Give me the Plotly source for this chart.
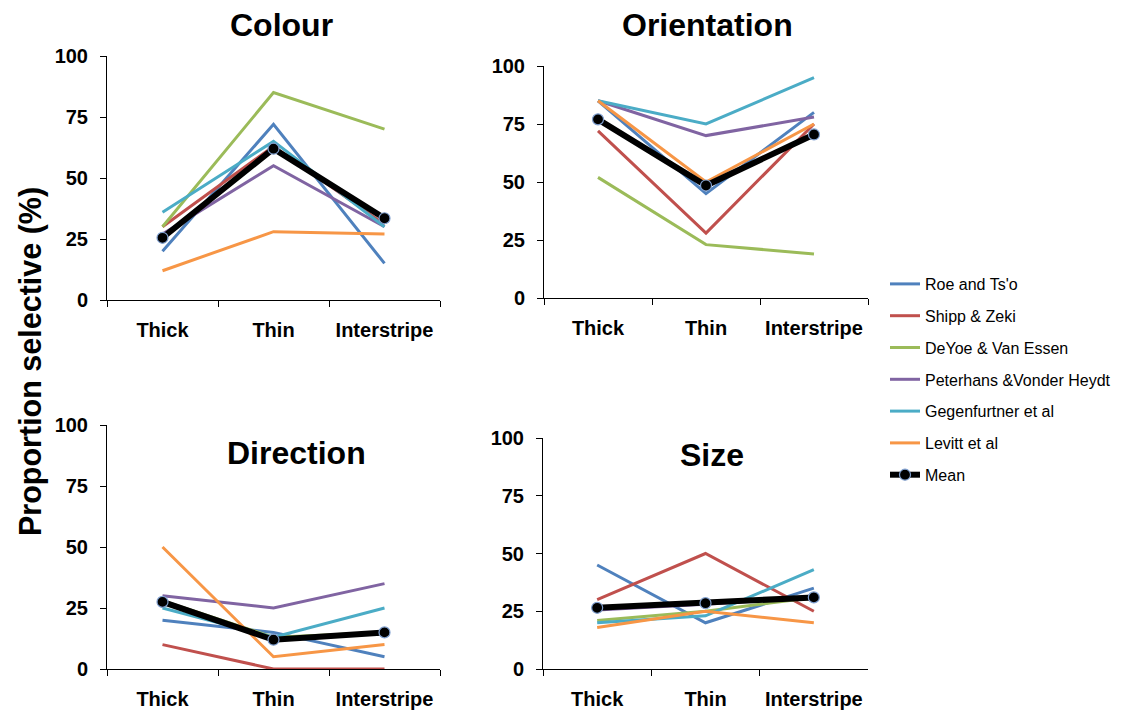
import plotly.graph_objects as go

# Stripe compartments on the x axis
categories = ["Thick", "Thin", "Interstripe"]

studies = [
    "Roe and Ts'o",
    "Shipp & Zeki",
    "DeYoe & Van Essen",
    "Peterhans &Vonder Heydt",
    "Gegenfurtner et al",
    "Levitt et al",
]
study_colors = ["#4F81BD", "#C0504D", "#9BBB59", "#8064A2", "#4BACC6", "#F79646"]

# Percentage of selective cells per study (Thick, Thin, Interstripe)
colour_roe = [20, 72, 15]
colour_shipp = [30, 63, 31]
colour_deyoe = [30, 85, 70]
colour_peterhans = [27, 55, 30]
colour_gegenfurtner = [36, 65, 30]
colour_levitt = [12, 28, 27]
colour_mean = [25.5, 62, 33.5]

orientation_roe = [85, 45, 80]
orientation_shipp = [72, 28, 75]
orientation_deyoe = [52, 23, 19]
orientation_peterhans = [85, 70, 78]
orientation_gegenfurtner = [85, 75, 95]
orientation_levitt = [85, 50, 75]
orientation_mean = [77, 48.5, 70.5]

direction_roe = [20, 15, 5]
direction_shipp = [10, 0, 0]
direction_deyoe = [28, 13, 15]
direction_peterhans = [30, 25, 35]
direction_gegenfurtner = [25, 13, 25]
direction_levitt = [50, 5, 10]
direction_mean = [27.5, 12, 15]

size_roe = [45, 20, 35]
size_shipp = [30, 50, 25]
size_deyoe = [21, 25, 31]
size_peterhans = [25.5, 28, 31]
size_gegenfurtner = [20, 23, 43]
size_levitt = [18, 25, 20]
size_mean = [26.5, 28.5, 31]

y_ticks = [0, 25, 50, 75, 100]

panels = [
    ("Colour", [colour_roe, colour_shipp, colour_deyoe, colour_peterhans,
                colour_gegenfurtner, colour_levitt], colour_mean),
    ("Orientation", [orientation_roe, orientation_shipp, orientation_deyoe,
                     orientation_peterhans, orientation_gegenfurtner,
                     orientation_levitt], orientation_mean),
    ("Direction", [direction_roe, direction_shipp, direction_deyoe,
                   direction_peterhans, direction_gegenfurtner,
                   direction_levitt], direction_mean),
    ("Size", [size_roe, size_shipp, size_deyoe, size_peterhans,
              size_gegenfurtner, size_levitt], size_mean),
]

W, H = 1125, 712


def px_x(v):
    return v / W


def px_y(v):
    return 1 - v / H


# Plot-area boxes in pixels: (left, right, top, bottom)
boxes = [
    (107, 440, 56, 300),
    (544, 868, 66, 298),
    (107, 440, 425, 669),
    (543, 868, 438, 669),
]
# Panel title centres in pixels
title_pos = [(281, 25), (707, 25), (296, 453), (712, 455)]

FAMILY = "Liberation Sans, Arial, sans-serif"
fig = go.Figure()
bold = dict(family=FAMILY, size=20, color="black", weight="bold")

for i, (name, series, mean) in enumerate(panels):
    suffix = "" if i == 0 else str(i + 1)
    xa, ya = "x" + suffix, "y" + suffix
    for s, (label, vals) in enumerate(zip(studies, series)):
        fig.add_trace(go.Scatter(
            x=categories, y=vals, mode="lines", name=label,
            line=dict(color=study_colors[s], width=3),
            xaxis=xa, yaxis=ya, legendgroup=label,
            showlegend=(i == 0), hoverinfo="skip",
        ))
    fig.add_trace(go.Scatter(
        x=categories, y=mean, mode="lines+markers", name="Mean",
        line=dict(color="black", width=6),
        marker=dict(color="black", size=11,
                    line=dict(color="#7F9FCF", width=1.2)),
        xaxis=xa, yaxis=ya, legendgroup="Mean",
        showlegend=(i == 0), hoverinfo="skip",
    ))

    left, right, top, bottom = boxes[i]
    fig.layout["xaxis" + suffix] = dict(
        domain=[px_x(left), px_x(right)], anchor=ya,
        type="category", range=[-0.5, 2.5], tickson="boundaries",
        ticks="outside", ticklen=6, tickcolor="black",
        showline=True, linecolor="black", linewidth=1,
        showgrid=False, zeroline=False, tickfont=bold,
        ticklabelstandoff=12, automargin=False,
    )
    fig.layout["yaxis" + suffix] = dict(
        domain=[px_y(bottom), px_y(top)], anchor=xa,
        range=[0, 100], tickvals=y_ticks, ticks="outside", ticklen=6,
        tickcolor="black", showline=True, linecolor="black", linewidth=1,
        showgrid=False, zeroline=False, tickfont=bold,
        ticklabelstandoff=8, automargin=False,
    )
    tx, ty = title_pos[i]
    fig.add_annotation(
        x=px_x(tx), y=px_y(ty), xref="paper", yref="paper",
        text=name, showarrow=False, xanchor="center", yanchor="middle",
        font=dict(family=FAMILY, size=32, color="black", weight="bold"),
    )

fig.add_annotation(
    x=px_x(30), y=px_y(362), xref="paper", yref="paper",
    text="Proportion selective (%)", showarrow=False, textangle=-90,
    xanchor="center", yanchor="middle",
    font=dict(family=FAMILY, size=30.5, color="black", weight="bold"),
)

fig.update_layout(
    width=W, height=H,
    margin=dict(l=0, r=0, t=0, b=0, autoexpand=False),
    paper_bgcolor="white", plot_bgcolor="white",
    showlegend=True,
    legend=dict(
        x=px_x(885), y=px_y(267), xanchor="left", yanchor="top",
        font=dict(family=FAMILY, size=16, color="black"),
        tracegroupgap=8, itemwidth=30, bgcolor="rgba(0,0,0,0)",
    ),
)

fig.write_html("out.html")
